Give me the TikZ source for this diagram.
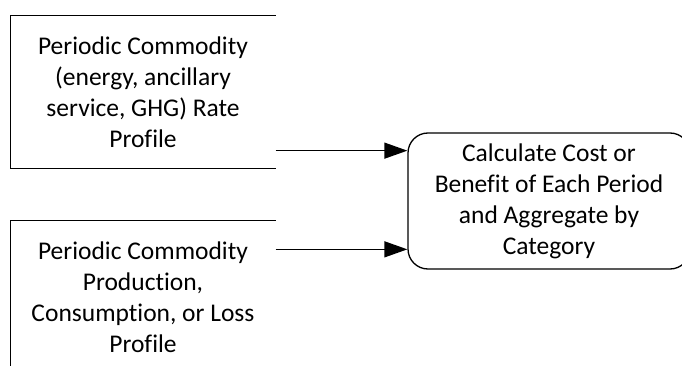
\documentclass[tikz,border=0pt]{standalone}
\usepackage{fontspec}
\setmainfont{Carlito}[Ligatures=NoCommon]
\usetikzlibrary{positioning,arrows.meta}

\tikzset{
    store/.style={minimum width=264pt,minimum height=152pt,align=center,inner sep=0pt},
    process/.style={draw,rounded corners=20pt,minimum width=282pt,minimum height=136pt,align=center,inner sep=0pt},
    flow/.style={-{Triangle[length=23pt,width=16pt]}}
}

\begin{document}
\begin{tikzpicture}[x=1pt,y=-1pt,line width=1.3pt,font=\fontsize{25.5}{31}\selectfont]
        \useasboundingbox (0,0) rectangle (682,366);
        \clip (0,0) rectangle (682,366);
        % data stores, open on the right
        \node[store] (rate) at (143,92) {Periodic Commodity\\(energy, ancillary\\service, GHG) Rate\\Profile};
        \node[store] (load) at (143,297) {Periodic Commodity\\Production,\\Consumption, or Loss\\Profile};
        \draw (rate.north east) -- (rate.north west) -- (rate.south west) -- (rate.south east);
        \draw (load.north east) -- (load.north west) -- (load.south west) -- (load.south east);
        % process
        \node[process] (calc) at (549,201) {Calculate Cost or\\Benefit of Each Period\\and Aggregate by\\Category};
        % flows
        \draw[flow] ([yshift=18pt]rate.south east) -- ([yshift=18pt]rate.south east -| calc.west);
        \draw[flow] ([yshift=-29pt]load.north east) -- ([yshift=-29pt]load.north east -| calc.west);
    \end{tikzpicture}
\end{document}
